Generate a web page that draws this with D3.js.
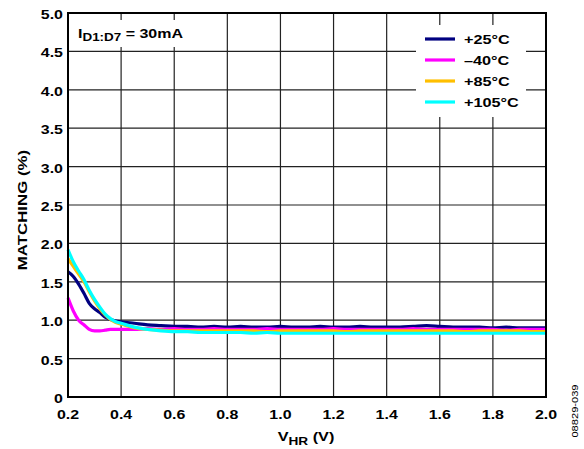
<!DOCTYPE html>
<html><head><meta charset="utf-8">
<script src="https://cdn.jsdelivr.net/npm/d3@7"></script>
<style>body{margin:0;background:#fff;} text{font-family:"Liberation Sans",Arial,sans-serif;font-weight:bold;}</style>
</head><body><svg id="c" width="584" height="449"></svg>
<script>
const xVals = [0.20,0.22,0.24,0.26,0.28,0.30,0.32,0.34,0.36,0.38,0.40,0.45,0.50,0.55,0.60,0.65,0.70,0.75,0.80,0.85,0.90,0.95,1.00,1.05,1.10,1.15,1.20,1.25,1.30,1.35,1.40,1.45,1.50,1.55,1.60,1.65,1.70,1.75,1.80,1.85,1.90,1.95,2.00];
const s25  = [1.63,1.57,1.47,1.35,1.22,1.15,1.10,1.04,1.01,0.99,0.98,0.96,0.94,0.93,0.92,0.92,0.91,0.92,0.91,0.92,0.91,0.91,0.92,0.91,0.91,0.92,0.91,0.91,0.92,0.91,0.91,0.91,0.92,0.93,0.92,0.91,0.91,0.91,0.90,0.91,0.90,0.90,0.90];
const sm40 = [1.29,1.12,1.00,0.94,0.88,0.86,0.86,0.87,0.88,0.88,0.88,0.88,0.89,0.88,0.89,0.88,0.88,0.89,0.88,0.88,0.88,0.89,0.88,0.88,0.88,0.88,0.89,0.88,0.88,0.88,0.88,0.88,0.89,0.88,0.88,0.88,0.88,0.88,0.88,0.87,0.88,0.88,0.88];
const s85  = [1.80,1.70,1.60,1.50,1.37,1.25,1.15,1.07,1.01,0.97,0.95,0.90,0.88,0.87,0.86,0.86,0.86,0.86,0.86,0.86,0.86,0.85,0.86,0.86,0.86,0.86,0.86,0.85,0.86,0.86,0.86,0.86,0.86,0.86,0.86,0.86,0.85,0.86,0.86,0.86,0.86,0.85,0.85];
const s105 = [1.92,1.76,1.64,1.53,1.39,1.27,1.17,1.08,1.02,0.98,0.96,0.91,0.88,0.86,0.85,0.85,0.84,0.84,0.84,0.84,0.83,0.84,0.83,0.83,0.83,0.83,0.83,0.83,0.83,0.83,0.83,0.83,0.83,0.83,0.83,0.83,0.83,0.83,0.83,0.83,0.83,0.83,0.83];
const seriesNames = ["+25°C","–40°C","+85°C","+105°C"];
const seriesColors = ["#000080","#ff00ff","#ffbf00","#00ffff"];
const xTicks = [0.2,0.4,0.6,0.8,1.0,1.2,1.4,1.6,1.8,2.0];
const yTicks = [0,0.5,1.0,1.5,2.0,2.5,3.0,3.5,4.0,4.5,5.0];

const svg = d3.select("#c");
const L=68,R=546,T=13,B=397;
const SX=1.33, FS=12;
const x = d3.scaleLinear().domain([0.2,2.0]).range([L,R]);
const y = d3.scaleLinear().domain([0,5]).range([B,T]);

function txt(px,py,anchor,size,sx,rot){
  return svg.append("text")
    .attr("transform",`translate(${px},${py})${rot?` rotate(${rot})`:""} scale(${sx},1)`)
    .attr("text-anchor",anchor).attr("font-size",size);
}

// grid
svg.append("g").selectAll("line").data(xTicks).join("line")
  .attr("x1",d=>x(d)).attr("x2",d=>x(d)).attr("y1",T).attr("y2",B)
  .attr("stroke","#222").attr("stroke-width",1.2);
svg.append("g").selectAll("line").data(yTicks).join("line")
  .attr("x1",L).attr("x2",R).attr("y1",d=>y(d)).attr("y2",d=>y(d))
  .attr("stroke","#222").attr("stroke-width",1.2);

// tick labels
xTicks.forEach(d=>txt(x(d),B+22,"middle",FS,SX).text(d.toFixed(1)));
yTicks.forEach(d=>txt(L-5,y(d)+6,"end",FS,SX).text(d===0?"0":d.toFixed(1)));

// series
const all=[s25,sm40,s85,s105];
const line = d3.line().x((d,i)=>x(xVals[i])).y(d=>y(d)).curve(d3.curveMonotoneX);
[0,1,2,3].forEach(k=>{
  svg.append("path").datum(all[k]).attr("d",line).attr("fill","none")
    .attr("stroke",seriesColors[k]).attr("stroke-width",3.2).attr("stroke-linejoin","round");
});

// border
svg.append("rect").attr("x",L).attr("y",T).attr("width",R-L).attr("height",B-T)
  .attr("fill","none").attr("stroke","#000").attr("stroke-width",2);

// annotation box
svg.append("rect").attr("x",L+1).attr("y",20).attr("width",121).attr("height",27).attr("fill","#fff");
const ann = txt(78,38,"start",12.5,1.28);
ann.append("tspan").text("I");
ann.append("tspan").attr("dy",3).attr("font-size",10.5).text("D1:D7");
ann.append("tspan").attr("dy",-3).text(" = 30mA");

// legend
svg.append("rect").attr("x",416).attr("y",25).attr("width",110).attr("height",92).attr("fill","#fff");
seriesNames.forEach((n,i)=>{
  const yy=39+i*21;
  svg.append("line").attr("x1",425).attr("x2",455).attr("y1",yy).attr("y2",yy)
    .attr("stroke",seriesColors[i]).attr("stroke-width",3.2);
  txt(464,yy+5,"start",12.5,1.3).text(n);
});

// axis titles
const xt = txt(306,441,"middle",12.5,1.3);
xt.append("tspan").text("V");
xt.append("tspan").attr("dy",4).attr("font-size",10.5).text("HR");
xt.append("tspan").attr("dy",-4).text(" (V)");
txt(27,210,"middle",12.5,1.35,-90).text("MATCHING (%)");
txt(578,411,"middle",9.5,1.17,-90).attr("font-weight","normal").style("font-weight","normal").text("08829-039");
</script></body></html>
